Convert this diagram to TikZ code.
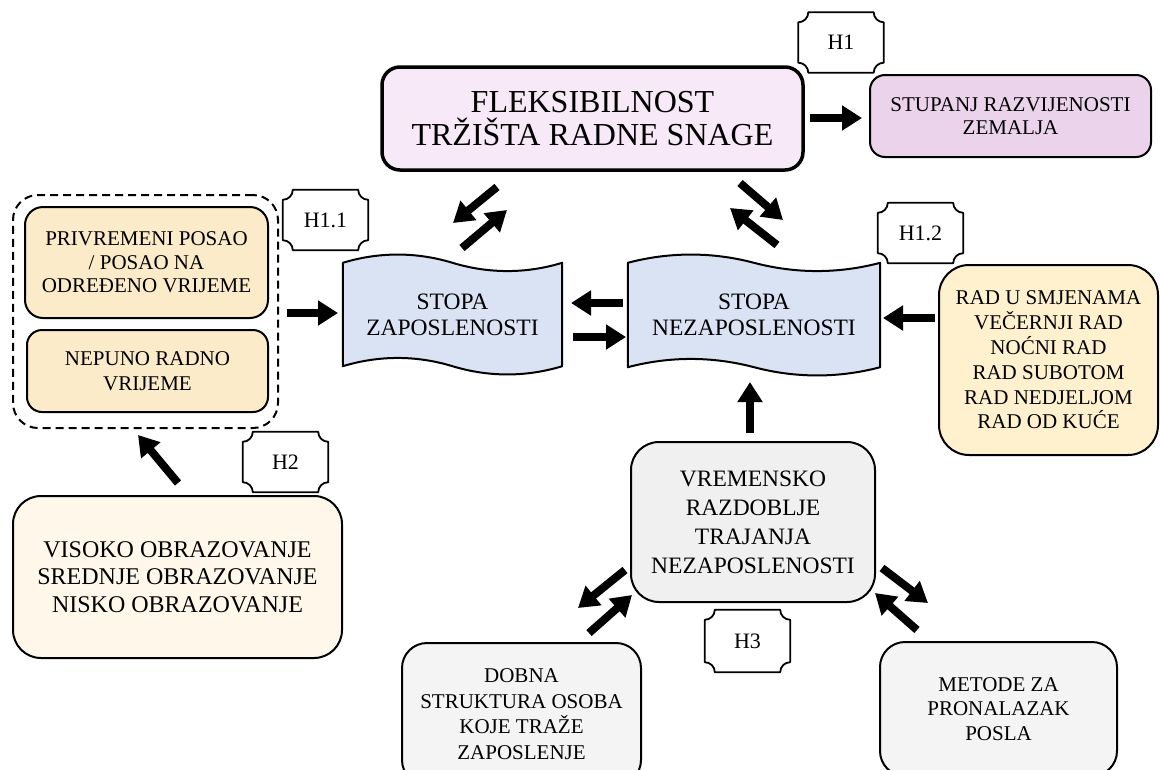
\documentclass[tikz,border=0pt]{standalone}
\usepackage{fontspec}
\setmainfont{Liberation Serif}
\usetikzlibrary{arrows.meta,calc,backgrounds}
\definecolor{fleksfill}{HTML}{F7E9F7}
\definecolor{stupfill}{HTML}{EAD3EB}
\definecolor{stopafill}{HTML}{DAE3F3}
\definecolor{privfill}{HTML}{FCEBC9}
\definecolor{radfill}{HTML}{FFF1CD}
\definecolor{visofill}{HTML}{FFF8EA}
\definecolor{vremfill}{HTML}{F0F0F0}
\definecolor{greyfill}{HTML}{F4F4F4}
\tikzset{
  rbox/.style={draw=black, line width=2pt, rounded corners=#1, inner sep=0pt, align=center,
    font=\fontsize{21}{24.5}\selectfont},
  rbox/.default=15pt,
  wavenode/.style={inner sep=0pt, align=center, font=\fontsize{23.5}{26}\selectfont},
  wavestyle/.style={draw=black, line width=2pt, fill=stopafill, line join=round},
  plqnode/.style={inner sep=0pt, minimum width=85pt, minimum height=60pt, font=\fontsize{22}{24}\selectfont},
  plq/.style={draw=black, line width=1.8pt, line join=round},
  blk/.style={line width=8pt, -{Triangle[length=20pt,width=24pt]}},
}
\newcommand\plaque[1]{%
  \draw[plq] ($(#1.north west)+(10,0)$) -- ($(#1.north east)+(-10,0)$)
    .. controls ($(#1.north east)+(-10,5.5)$) and ($(#1.north east)+(-5.5,10)$) .. ($(#1.north east)+(0,10)$)
    -- ($(#1.south east)+(0,-10)$)
    .. controls ($(#1.south east)+(-5.5,-10)$) and ($(#1.south east)+(-10,-5.5)$) .. ($(#1.south east)+(-10,0)$)
    -- ($(#1.south west)+(10,0)$)
    .. controls ($(#1.south west)+(10,-5.5)$) and ($(#1.south west)+(5.5,-10)$) .. ($(#1.south west)+(0,-10)$)
    -- ($(#1.north west)+(0,10)$)
    .. controls ($(#1.north west)+(5.5,10)$) and ($(#1.north west)+(10,5.5)$) .. ($(#1.north west)+(10,0)$) -- cycle;}
\newcommand\wavepath[1]{%
  \draw[wavestyle] (#1.north west)
    .. controls ($(#1.north west)!0.33!(#1.north)+(0,-11)$) and ($(#1.north west)!0.67!(#1.north)+(0,-11)$) .. (#1.north)
    .. controls ($(#1.north)!0.33!(#1.north east)+(0,11)$) and ($(#1.north)!0.67!(#1.north east)+(0,11)$) .. (#1.north east)
    -- (#1.south east)
    .. controls ($(#1.south east)!0.33!(#1.south)+(0,11)$) and ($(#1.south east)!0.67!(#1.south)+(0,11)$) .. (#1.south)
    .. controls ($(#1.south)!0.33!(#1.south west)+(0,-11)$) and ($(#1.south)!0.67!(#1.south west)+(0,-11)$) .. (#1.south west)
    -- cycle;}
\begin{document}
\begin{tikzpicture}[x=1pt,y=-1pt]
\useasboundingbox (0,0) rectangle (1160,769);
\clip (0,0) rectangle (1160,769);

% main boxes
\node[rbox=18pt, line width=3.5pt, fill=fleksfill, minimum width=421pt, minimum height=103pt,
  font=\fontsize{32}{33}\selectfont] (fleks) at (592.5,118.5) {FLEKSIBILNOST\\TRŽIŠTA RADNE SNAGE};
\node[rbox, fill=stupfill, minimum width=281pt, minimum height=82pt,
  font=\fontsize{21}{23}\selectfont] (stup) at (1010.5,116) {STUPANJ RAZVIJENOSTI\\ZEMALJA};

\node[plqnode] (h1) at (841,42.5) {H1};
\node[plqnode] (h11) at (325.5,220) {H1.1};
\node[plqnode] (h12) at (920.5,233) {H1.2};
\node[plqnode] (h2) at (285.5,462) {H2};
\node[plqnode, minimum height=62pt] (h3) at (747.5,641) {H3};
\plaque{h1}\plaque{h11}\plaque{h12}\plaque{h2}\plaque{h3}

% left group
\node[draw=black, line width=2pt, dash pattern=on 8pt off 5pt, rounded corners=25pt,
  minimum width=265pt, minimum height=233pt] (grp) at (145.5,311.5) {};
\node[rbox=18pt, fill=privfill, minimum width=243pt, minimum height=111pt,
  font=\fontsize{21}{23.5}\selectfont] (priv) at (146.5,262.5) {PRIVREMENI POSAO\\/ POSAO NA\\ODREĐENO VRIJEME};
\node[rbox, fill=privfill, minimum width=241pt, minimum height=82pt] (nep) at (147.5,371) {NEPUNO RADNO\\VRIJEME};

% wave nodes
\node[wavenode, minimum width=219pt, minimum height=103pt] (zap) at (452.5,314.5) {STOPA\\ZAPOSLENOSTI};
\node[wavenode, minimum width=252pt, minimum height=104pt] (nezap) at (754,315) {STOPA\\NEZAPOSLENOSTI};
\begin{scope}[on background layer]
\wavepath{zap}
\wavepath{nezap}
\end{scope}

\node[rbox=30pt, fill=radfill, minimum width=219pt, minimum height=190pt,
  font=\fontsize{21}{24.8}\selectfont] (rad) at (1048.5,360)
  {RAD U SMJENAMA\\VEČERNJI RAD\\NOĆNI RAD\\RAD SUBOTOM\\RAD NEDJELJOM\\RAD OD KUĆE};

\node[rbox=28pt, fill=visofill, minimum width=329pt, minimum height=162pt,
  font=\fontsize{24}{27.5}\selectfont] (viso) at (177.5,577)
  {VISOKO OBRAZOVANJE\\SREDNJE OBRAZOVANJE\\NISKO OBRAZOVANJE};

\node[rbox=28pt, fill=vremfill, minimum width=244pt, minimum height=160pt,
  font=\fontsize{23.5}{29}\selectfont] (vrem) at (753,522)
  {VREMENSKO\\RAZDOBLJE\\TRAJANJA\\NEZAPOSLENOSTI};

\node[rbox=25pt, fill=greyfill, minimum width=239pt, minimum height=142pt,
  font=\fontsize{21}{25.5}\selectfont] (dobna) at (521.5,714)
  {DOBNA\\STRUKTURA OSOBA\\KOJE TRAŽE\\ZAPOSLENJE};
\node[rbox=25pt, fill=greyfill, minimum width=237pt, minimum height=134pt,
  font=\fontsize{21}{24.5}\selectfont] (metode) at (998.5,709)
  {METODE ZA\\PRONALAZAK\\POSLA};

% arrow end points
\coordinate (a1s) at (810,118);  \coordinate (a1e) at (862,118);
\coordinate (a2s) at (497,187);  \coordinate (a2e) at (453,223);
\coordinate (a3s) at (462,248);  \coordinate (a3e) at (507,210);
\coordinate (a4s) at (740,183);  \coordinate (a4e) at (783,220);
\coordinate (a5s) at (777,245);  \coordinate (a5e) at (730,208);
\coordinate (a6s) at (287,313);  \coordinate (a6e) at (338,313);
\coordinate (a7s) at (623,303);  \coordinate (a7e) at (571,303);
\coordinate (a8s) at (573,337);  \coordinate (a8e) at (626,337);
\coordinate (a9s) at (935,318);  \coordinate (a9e) at (883,318);
\coordinate (a10s) at (750,433); \coordinate (a10e) at (750,382);
\coordinate (a11s) at (178,483); \coordinate (a11e) at (138,435);
\coordinate (a12s) at (625,570); \coordinate (a12e) at (578,608);
\coordinate (a13s) at (589,633); \coordinate (a13e) at (632,595);
\coordinate (a14s) at (882,568); \coordinate (a14e) at (928,603);
\coordinate (a15s) at (917,630); \coordinate (a15e) at (875,593);

\foreach \i in {1,...,15} {\draw[blk] (a\i s) -- (a\i e);}
\end{tikzpicture}
\end{document}
